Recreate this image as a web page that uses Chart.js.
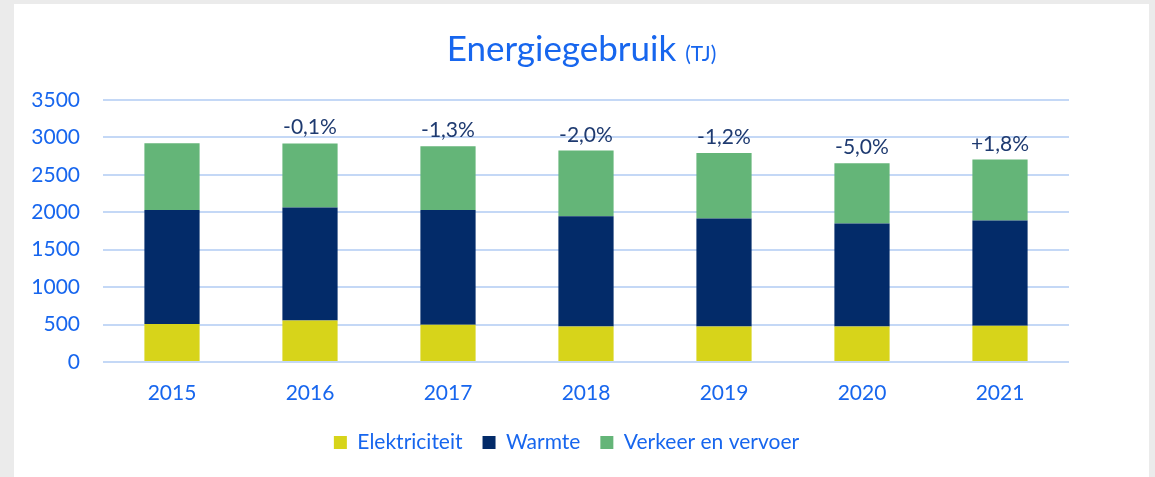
<!DOCTYPE html>
<html lang="nl">
<head>
<meta charset="UTF-8">
<title>Energiegebruik (TJ)</title>
<script src="https://cdn.jsdelivr.net/npm/chart.js"></script>
<style>
  body { margin: 0; background: #ebebeb; }
  #card {
    position: absolute;
    left: 14px;
    top: 4px;
    width: 1135px;
    height: 473px;
    background: #fff;
  }
</style>
</head>
<body>
<div id="card"><canvas id="energyChart"></canvas></div>
<script>
const years = ['2015', '2016', '2017', '2018', '2019', '2020', '2021'];
const elektriciteit = [507, 555, 498, 475, 473, 474, 484];
const warmte = [1525, 1508, 1534, 1473, 1443, 1376, 1406];
const verkeer = [890, 856, 851, 877, 875, 805, 815];
const changes = ['', '-0,1%', '-1,3%', '-2,0%', '-1,2%', '-5,0%', '+1,8%'];
const yTicks = [0, 500, 1000, 1500, 2000, 2500, 3000, 3500];

const blue = '#1766ee';
const FONT = 'Lato, sans-serif';

// title with smaller "(TJ)" part
const titlePlugin = {
  id: 'titleMixed',
  afterDraw(chart) {
    const ctx = chart.ctx;
    ctx.save();
    ctx.fillStyle = blue;
    ctx.textBaseline = 'alphabetic';
    const big = '35px ' + FONT, small = '21px ' + FONT;
    ctx.font = big;
    const w1 = ctx.measureText('Energiegebruik ').width;
    ctx.font = small;
    const w2 = ctx.measureText('(TJ)').width;
    const x0 = chart.width / 2 - (w1 + w2) / 2;
    ctx.font = big;
    ctx.fillText('Energiegebruik ', x0, 57);
    ctx.font = small;
    ctx.fillText('(TJ)', x0 + w1, 57);
    ctx.restore();
  }
};

// percentage change above each stack
const changePlugin = {
  id: 'changeLabels',
  afterDatasetsDraw(chart) {
    const ctx = chart.ctx;
    const meta = chart.getDatasetMeta(2);
    ctx.save();
    ctx.font = '21px ' + FONT;
    ctx.fillStyle = '#1e3a70';
    ctx.textAlign = 'center';
    ctx.textBaseline = 'alphabetic';
    meta.data.forEach((bar, i) => {
      if (changes[i]) ctx.fillText(changes[i], bar.x, bar.y - 9);
    });
    ctx.restore();
  }
};

new Chart(document.getElementById('energyChart'), {
  type: 'bar',
  data: {
    labels: years,
    datasets: [
      { label: 'Elektriciteit', data: elektriciteit, backgroundColor: '#d7d41a' },
      { label: 'Warmte', data: warmte, backgroundColor: '#032b69' },
      { label: 'Verkeer en vervoer', data: verkeer, backgroundColor: '#64b578' }
    ]
  },
  options: {
    responsive: true,
    maintainAspectRatio: false,
    animation: false,
    barPercentage: 0.4,
    categoryPercentage: 1,
    layout: { padding: { top: 96, right: 30, bottom: 14, left: 0 } },
    plugins: {
      title: { display: false },
      tooltip: { enabled: false },
      legend: {
        position: 'bottom',
        labels: {
          color: blue,
          font: { family: FONT, size: 21 },
          boxWidth: 13,
          boxHeight: 13,
          padding: 20
        }
      }
    },
    scales: {
      x: {
        stacked: true,
        grid: { display: false, drawTicks: false },
        border: { display: false },
        ticks: { color: blue, font: { family: FONT, size: 21 }, padding: 19 },
        afterFit: s => { s.height = 50; }
      },
      y: {
        stacked: true,
        min: 0,
        max: 3500,
        afterBuildTicks: s => { s.ticks = yTicks.map(v => ({ value: v })); },
        grid: { color: '#c4d8f6', lineWidth: 2, drawTicks: false },
        border: { display: false },
        ticks: {
          color: blue,
          font: { family: FONT, size: 21 },
          padding: 23,
          callback: v => String(v)
        },
        afterFit: s => { s.width = 89; }
      },
      // empty right-hand spacer so the legend sits where it does on the card
      spacer: {
        type: 'linear',
        position: 'right',
        display: true,
        grid: { display: false, drawTicks: false },
        border: { display: false },
        ticks: { display: false },
        afterFit: s => { s.width = 50; }
      }
    }
  },
  plugins: [titlePlugin, changePlugin]
});
</script>
</body>
</html>
